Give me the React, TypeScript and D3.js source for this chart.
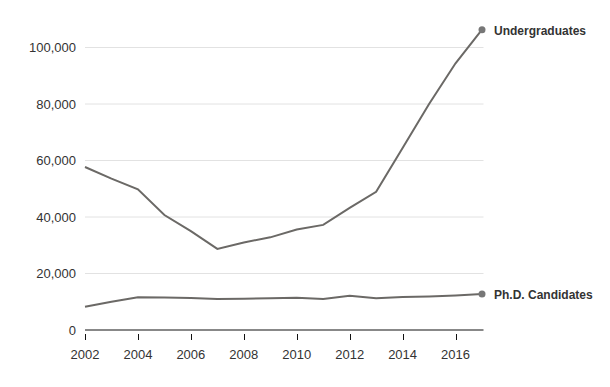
import * as d3 from 'd3';
import { useEffect, useRef } from 'react';

const years = [2002, 2003, 2004, 2005, 2006, 2007, 2008, 2009, 2010, 2011, 2012, 2013, 2014, 2015, 2016, 2017];
const undergrads = [57700, 53600, 49800, 40700, 35000, 28700, 31000, 32800, 35600, 37200, 43200, 48900, 64400, 80000, 94400, 106300];
const phds = [8250, 10000, 11600, 11500, 11300, 11000, 11100, 11200, 11400, 11000, 12100, 11200, 11700, 11900, 12200, 12700];
const yTicks = [0, 20000, 40000, 60000, 80000, 100000];
const xTicks = [2002, 2004, 2006, 2008, 2010, 2012, 2014, 2016];
const seriesNames = ['Undergraduates', 'Ph.D. Candidates'];

const width = 610;
const height = 387;
const margin = { left: 85, right: 128, top: 47.5, bottom: 57 };
const lineColor = '#6b6966';
const font = '"Liberation Sans", Arial, sans-serif';

export default function App() {
  const svgRef = useRef<SVGSVGElement>(null);

  useEffect(() => {
    const svg = d3.select(svgRef.current);
    svg.selectAll('*').remove();

    const x = d3.scaleLinear().domain([2002, 2017]).range([margin.left, width - margin.right]);
    const y = d3.scaleLinear().domain([0, 100000]).range([height - margin.bottom, margin.top]);
    const gridRight = x(2017) + 1.5;

    // grid lines
    svg
      .append('g')
      .selectAll('line')
      .data(yTicks.filter((t) => t > 0))
      .join('line')
      .attr('x1', margin.left)
      .attr('x2', gridRight)
      .attr('y1', (d) => y(d))
      .attr('y2', (d) => y(d))
      .attr('stroke', '#e2e2e2')
      .attr('stroke-width', 1);

    // y labels
    svg
      .append('g')
      .selectAll('text')
      .data(yTicks)
      .join('text')
      .attr('x', 76)
      .attr('y', (d) => y(d) + 4.5)
      .attr('text-anchor', 'end')
      .attr('font-family', font)
      .attr('font-size', 13)
      .attr('fill', '#333')
      .text((d) => d3.format(',')(d));

    // baseline
    svg
      .append('line')
      .attr('x1', margin.left)
      .attr('x2', gridRight)
      .attr('y1', y(0))
      .attr('y2', y(0))
      .attr('stroke', '#888')
      .attr('stroke-width', 2);

    // x ticks + labels
    const xg = svg.append('g');
    xg.selectAll('line')
      .data(xTicks)
      .join('line')
      .attr('x1', (d) => Math.round(x(d)) + 0.5)
      .attr('x2', (d) => Math.round(x(d)) + 0.5)
      .attr('y1', y(0) + 4)
      .attr('y2', y(0) + 10)
      .attr('stroke', '#111')
      .attr('stroke-width', 1);
    xg.selectAll('text')
      .data(xTicks)
      .join('text')
      .attr('x', (d) => x(d))
      .attr('y', y(0) + 28.5)
      .attr('text-anchor', 'middle')
      .attr('font-family', font)
      .attr('font-size', 13)
      .attr('fill', '#333')
      .text((d) => String(d));

    const line = d3
      .line<number>()
      .x((_, i) => x(years[i]))
      .y((d) => y(d));

    [undergrads, phds].forEach((vals, k) => {
      svg
        .append('path')
        .attr('d', line(vals))
        .attr('fill', 'none')
        .attr('stroke', lineColor)
        .attr('stroke-width', 2);
      const last = vals[vals.length - 1];
      svg
        .append('circle')
        .attr('cx', x(2017))
        .attr('cy', y(last))
        .attr('r', 3.5)
        .attr('fill', '#777');
      svg
        .append('text')
        .attr('x', x(2017) + 12)
        .attr('y', y(last) + 5)
        .attr('font-family', font)
        .attr('font-size', 12)
        .attr('font-weight', 'bold')
        .attr('fill', '#333')
        .text(seriesNames[k]);
    });
  }, []);

  return (
    <svg
      ref={svgRef}
      width={width}
      height={height}
      style={{ position: 'absolute', left: 0, top: 0, background: '#fff' }}
    />
  );
}
